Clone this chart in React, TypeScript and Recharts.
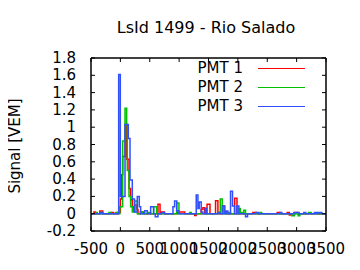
import { LineChart, Line, XAxis, YAxis, Legend } from 'recharts';

const FONT = '"DejaVu Sans", sans-serif';

const xTicks = [-500, 0, 500, 1000, 1500, 2000, 2500, 3000, 3500];
const yTicks = [-0.2, 0, 0.2, 0.4, 0.6, 0.8, 1, 1.2, 1.4, 1.6, 1.8];
const yTickLabels = ['-0.2', '0', '0.2', '0.4', '0.6', '0.8', '1', '1.2', '1.4', '1.6', '1.8'];

// step change points: [time (ns), signal (VEM)], value holds until the next point
const pmt1 = [
  [-500, 0], [-450, 0.02], [-425, 0], [-350, 0.03], [-300, 0], [-160, 0.015], [-115, 0],
  [-50, 0.015], [0, 0.17], [22, 0.45], [39, 0.66], [79, 1.03], [107, 0.63], [147, 0.29],
  [175, 0.16], [203, 0.08], [230, 0.03], [245, 0.1], [280, 0.05], [300, 0], [340, 0.02],
  [400, 0], [640, 0.11], [675, 0], [700, 0.02], [750, 0], [975, 0.02], [1095, 0],
  [1265, -0.02], [1290, 0], [1375, 0.05], [1405, 0.07], [1435, 0], [1475, 0.11], [1525, 0],
  [1620, 0.15], [1660, 0], [1735, 0.09], [1775, 0.02], [1800, 0], [1945, 0.18], [1985, 0],
  [2255, 0.015], [2315, 0], [2670, 0.015], [2715, 0], [2840, 0.015], [2875, -0.015],
  [2905, 0], [2975, 0.015], [3020, 0], [3500, 0],
];

const pmt2 = [
  [-500, 0], [-420, 0.015], [-395, 0], [-330, 0.015], [-305, 0], [-195, 0.015], [-160, 0],
  [-80, 0.015], [-45, 0], [-10, 0.08], [39, 0.84], [79, 1.22], [107, 1.03], [118, 0.5],
  [147, 0.2], [175, 0.08], [203, 0.02], [243, 0.147], [288, 0], [345, 0.02], [375, 0],
  [460, 0.015], [515, 0], [566, 0.08], [617, 0], [957, 0.125], [997, 0], [1178, 0.015],
  [1206, 0], [1660, 0.015], [1700, 0.17], [1733, 0], [1830, 0.015], [1875, 0], [2017, 0.06],
  [2040, 0.015], [2075, 0], [2100, 0.04], [2130, 0], [2375, 0.015], [2405, 0],
  [2918, -0.023], [2963, 0], [3026, -0.023], [3054, 0], [3201, 0.015], [3247, 0], [3500, 0],
];

const pmt3 = [
  [-500, 0], [-330, 0.015], [-300, 0], [-29, 1.61], [-1, 0.2], [79, 1.03], [135, 0.87],
  [164, 0.39], [203, 0.17], [240, 0.02], [288, 0.2], [322, 0.08], [345, 0], [413, 0.035],
  [458, 0], [515, 0.08], [566, 0], [594, -0.035], [640, 0], [700, 0.015], [750, 0],
  [895, 0.08], [923, 0.147], [960, 0.035], [997, 0], [1291, 0.216], [1320, 0.06],
  [1342, 0.135], [1376, 0.02], [1405, 0], [1445, 0.06], [1467, 0], [1660, 0.015], [1694, 0],
  [1745, 0.09], [1773, 0], [1800, 0.03], [1830, 0], [1875, 0.26], [1909, 0.09], [1943, 0],
  [1983, 0.09], [2017, 0], [2130, -0.035], [2164, 0], [2300, 0.015], [2350, 0],
  [2714, 0.015], [2748, 0], [2952, 0.015], [3043, 0], [3122, 0.015], [3156, 0],
  [3303, 0.015], [3337, 0], [3349, 0.015], [3383, 0], [3394, 0.015], [3428, 0], [3500, 0],
];

const toPoints = (steps: number[][]) => steps.map(([t, v]) => ({ t, v }));

const TICK_LEN = 4;

const BottomTick = ({ x, y, payload }: any) => (
  <g>
    <line x1={x} x2={x} y1={y} y2={y - TICK_LEN} stroke="#000" />
    <text x={x} y={y + 18} textAnchor="middle" dominantBaseline="central"
      fontFamily={FONT} fontSize={15} fill="#000">
      {payload.value}
    </text>
  </g>
);

const TopTick = ({ x, y }: any) => (
  <line x1={x} x2={x} y1={y} y2={y + TICK_LEN} stroke="#000" />
);

const LeftTick = ({ x, y, payload }: any) => {
  const i = yTicks.findIndex((v) => Math.abs(v - payload.value) < 1e-6);
  return (
    <g>
      <line x1={x} x2={x + TICK_LEN} y1={y} y2={y} stroke="#000" />
      <text x={x - 15} y={y} textAnchor="end" dominantBaseline="central"
        fontFamily={FONT} fontSize={15} fill="#000">
        {i >= 0 ? yTickLabels[i] : payload.value}
      </text>
    </g>
  );
};

const RightTick = ({ x, y }: any) => (
  <line x1={x} x2={x - TICK_LEN} y1={y} y2={y} stroke="#000" />
);

const renderLegend = (props: any) => (
  <div style={{ fontFamily: FONT, fontSize: 15, color: '#000' }}>
    {(props.payload || []).map((item: any) => (
      <div key={item.value} style={{ display: 'flex', alignItems: 'center', height: 19 }}>
        <span style={{ width: 60, textAlign: 'right', whiteSpace: 'nowrap' }}>{item.value}</span>
        <span style={{ marginLeft: 15, width: 47, borderTop: `1.5px solid ${item.color}` }} />
      </div>
    ))}
  </div>
);

export default function App() {
  return (
    <div style={{ position: 'relative', width: 352, height: 262 }}>
      <div
        style={{
          position: 'absolute', left: 198, top: 10, transform: 'translateX(-50%)',
          fontFamily: FONT, fontSize: 16, lineHeight: '20px', whiteSpace: 'nowrap',
        }}
      >
        LsId 1499 - Rio Salado
      </div>
      <div
        style={{
          position: 'absolute', left: 7, top: 138,
          transform: 'translate(-50%, -50%) rotate(-90deg)',
          fontFamily: FONT, fontSize: 15, whiteSpace: 'nowrap',
        }}
      >
        Signal [VEM]
      </div>
      <LineChart width={352} height={262} margin={{ top: 49, right: 33, bottom: 14, left: 0 }}>
        <XAxis xAxisId="b" dataKey="t" type="number" domain={[-500, 3500]} ticks={xTicks}
          interval={0} allowDataOverflow height={25} tickSize={0} tickMargin={0}
          tickLine={false} axisLine={{ stroke: '#000', strokeWidth: 1.5 }} tick={<BottomTick />} />
        <XAxis xAxisId="t" orientation="top" dataKey="t" type="number" domain={[-500, 3500]}
          ticks={xTicks} interval={0} allowDataOverflow height={1} tickSize={0} tickMargin={0}
          tickLine={false} axisLine={{ stroke: '#000', strokeWidth: 1.5 }} tick={<TopTick />} />
        <YAxis yAxisId="l" type="number" domain={[-0.2, 1.8]} ticks={yTicks} interval={0}
          allowDataOverflow width={83} tickSize={0} tickMargin={0} tickLine={false}
          axisLine={{ stroke: '#000', strokeWidth: 1.5 }} tick={<LeftTick />} />
        <YAxis yAxisId="r" orientation="right" type="number" domain={[-0.2, 1.8]} ticks={yTicks}
          interval={0} allowDataOverflow width={1} tickSize={0} tickMargin={0} tickLine={false}
          axisLine={{ stroke: '#000', strokeWidth: 1.5 }} tick={<RightTick />} />
        <Legend layout="horizontal" verticalAlign="middle" align="center" content={renderLegend}
          wrapperStyle={{ left: 175, top: 50.5, width: 130 }} />
        <Line data={toPoints(pmt1)} dataKey="v" name="PMT 1" xAxisId="b" yAxisId="l"
          type="stepAfter" stroke="#ff0000" strokeWidth={1.5} dot={false} isAnimationActive={false} />
        <Line data={toPoints(pmt2)} dataKey="v" name="PMT 2" xAxisId="b" yAxisId="l"
          type="stepAfter" stroke="#00c000" strokeWidth={1.5} dot={false} isAnimationActive={false} />
        <Line data={toPoints(pmt3)} dataKey="v" name="PMT 3" xAxisId="b" yAxisId="l"
          type="stepAfter" stroke="#3050ff" strokeWidth={1.5} dot={false} isAnimationActive={false} />
      </LineChart>
    </div>
  );
}
